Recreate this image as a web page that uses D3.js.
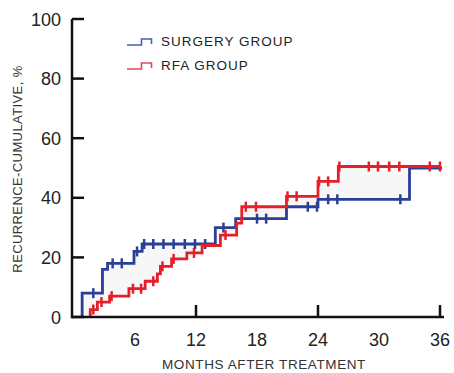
<!DOCTYPE html>
<html>
<head>
<meta charset="utf-8">
<script src="https://cdn.jsdelivr.net/npm/d3@7"></script>
<style>
  body { margin: 0; background: #fff; }
  text { font-family: "Liberation Sans", Arial, sans-serif; }
</style>
</head>
<body>
<div id="chart"></div>
<script>
// step points (months, cumulative %)
const surgeryTimes  = [0.8, 2.8, 3.3, 5.9, 6.7, 13.9, 15.9, 20.9, 24.0, 33.0];
const surgeryValues = [8, 16, 18, 22, 24.5, 30, 33, 37, 39.5, 50];
const surgeryEnd = 36.2;
const surgeryCensor = [1.9, 3.8, 4.7, 6.2, 6.9, 7.8, 8.8, 9.8, 10.9, 11.9, 12.9, 14.7,
                       18.0, 18.9, 23.0, 23.9, 25.0, 25.9, 32.1];

const rfaTimes  = [1.6, 2.3, 3.5, 5.4, 7.0, 8.2, 8.5, 9.6, 11.1, 12.6, 14.4, 16.0, 16.5, 20.9, 24.0, 26.0];
const rfaValues = [2.5, 5, 7, 9.5, 12, 14.5, 17, 19.5, 21.5, 24, 27.5, 31.5, 37, 40.5, 45.5, 50.5];
const rfaEnd = 36.0;
const rfaCensor = [1.9, 2.7, 3.7, 5.8, 6.6, 7.8, 8.7, 9.8, 11.8, 14.9, 16.9, 17.9, 21.0, 21.9,
                   24.1, 25.0, 26.1, 29.0, 29.9, 31.0, 32.0, 35.0, 36.0];

const xTickLabels = [6, 12, 18, 24, 30, 36];
const xTickMarks = [12, 24, 36];
const yTicks = [0, 20, 40, 60, 80, 100];

const width = 454, height = 373;
const svg = d3.select("#chart").append("svg")
    .attr("width", width).attr("height", height);

const x = d3.scaleLinear().domain([0, 36]).range([74, 440]);
const y = d3.scaleLinear().domain([0, 100]).range([317, 19]);

// step helpers
function stepAt(times, values, t){
    let v = 0;
    times.forEach((tt, i) => { if (t >= tt) v = values[i]; });
    return v;
}
function stepPoints(times, values, end){
    const pts = [[times[0], 0]];
    times.forEach((t, i) => pts.push([t, values[i]]));
    pts.push([end, values[values.length - 1]]);
    return pts;
}

// very light fill between the curves
const grid = Array.from(new Set([...surgeryTimes, ...rfaTimes, 36])).sort((a, b) => a - b);
svg.append("path")
    .datum(grid)
    .attr("fill", "#f7f7f7")
    .attr("d", d3.area().curve(d3.curveStepAfter)
        .x(d => x(d))
        .y0(d => y(stepAt(surgeryTimes, surgeryValues, d)))
        .y1(d => y(stepAt(rfaTimes, rfaValues, d))));

const line = d3.line().curve(d3.curveStepAfter).x(d => x(d[0])).y(d => y(d[1]));

const groups = [
    {times: surgeryTimes, values: surgeryValues, end: surgeryEnd, censor: surgeryCensor, color: "#2b3e98"},
    {times: rfaTimes, values: rfaValues, end: rfaEnd, censor: rfaCensor, color: "#e51f2a"}
];

groups.forEach(g => {
    svg.append("path")
        .datum(stepPoints(g.times, g.values, g.end))
        .attr("fill", "none")
        .attr("stroke", g.color)
        .attr("stroke-width", 2.8)
        .attr("d", line);

    svg.selectAll(null).data(g.censor)
        .enter().append("line")
        .attr("x1", d => x(d)).attr("x2", d => x(d))
        .attr("y1", d => y(stepAt(g.times, g.values, d)) - 5)
        .attr("y2", d => y(stepAt(g.times, g.values, d)) + 5)
        .attr("stroke", g.color)
        .attr("stroke-width", 2.5);
});

// axes
const axisG = svg.append("g").attr("stroke", "#111").attr("stroke-width", 2.5);
axisG.append("line").attr("x1", 72).attr("x2", 72).attr("y1", y(100)).attr("y2", y(0) + 1.2);
axisG.append("line").attr("x1", 72).attr("x2", 444).attr("y1", y(0)).attr("y2", y(0));
axisG.selectAll(".yt").data(yTicks).enter().append("line")
    .attr("x1", 72).attr("x2", 84)
    .attr("y1", d => y(d)).attr("y2", d => y(d));
axisG.selectAll(".xt").data(xTickMarks).enter().append("line")
    .attr("x1", d => x(d)).attr("x2", d => x(d))
    .attr("y1", y(0)).attr("y2", y(0) - 12);

svg.selectAll(".ylab").data(yTicks).enter().append("text")
    .attr("x", 61).attr("y", d => y(d) + 6.5)
    .attr("text-anchor", "end")
    .style("font-size", "18px").style("fill", "#222")
    .text(d => d);

svg.selectAll(".xlab").data(xTickLabels).enter().append("text")
    .attr("x", d => x(d)).attr("y", 346)
    .attr("text-anchor", "middle")
    .style("font-size", "18px").style("fill", "#222")
    .text(d => d);

svg.append("text")
    .attr("x", 264).attr("y", 369)
    .attr("text-anchor", "middle")
    .style("font-size", "13.5px").style("letter-spacing", "0.6px").style("fill", "#333")
    .text("MONTHS AFTER TREATMENT");

svg.append("text")
    .attr("transform", "translate(22,169) rotate(-90)")
    .attr("text-anchor", "middle")
    .style("font-size", "13px").style("letter-spacing", "0.4px").style("fill", "#333")
    .text("RECURRENCE-CUMULATIVE, %");

// legend
const legend = [
    {label: "SURGERY GROUP", color: "#4a5fae", y: 45},
    {label: "RFA GROUP", color: "#e04a58", y: 69}
];
legend.forEach(l => {
    svg.append("path")
        .attr("d", `M127,${l.y}H141.5V${l.y - 6}H151.5V${l.y - 1}`)
        .attr("fill", "none").attr("stroke", l.color).attr("stroke-width", 1.6);
    svg.append("text")
        .attr("x", 161).attr("y", l.y + 1)
        .style("font-size", "13.5px").style("letter-spacing", "1px").style("fill", "#222")
        .text(l.label);
});
</script>
</body>
</html>
